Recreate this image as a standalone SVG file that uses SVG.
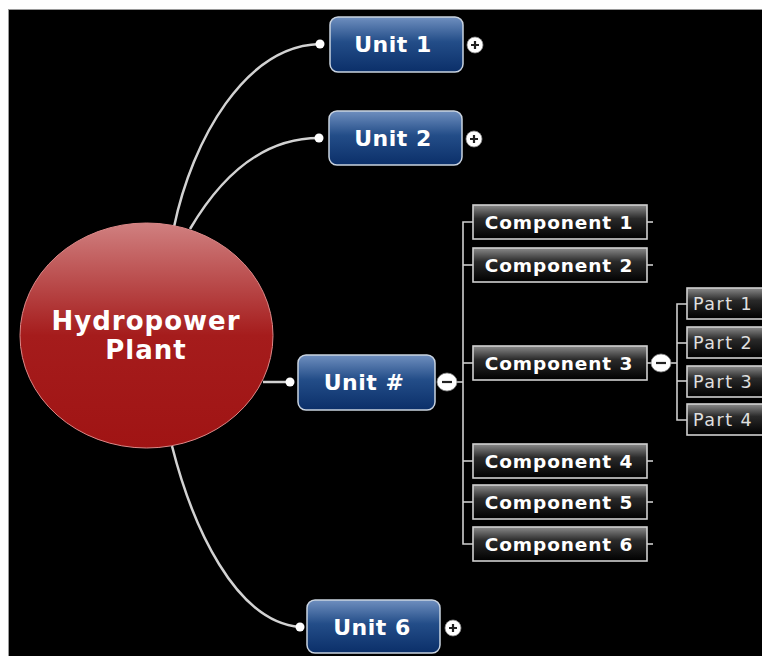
<svg xmlns="http://www.w3.org/2000/svg" width="762" height="656" viewBox="0 0 762 656">
<defs>
<linearGradient id="gRed" x1="0" y1="0" x2="0" y2="1">
<stop offset="0" stop-color="#d08080"/>
<stop offset="0.35" stop-color="#b23a3a"/>
<stop offset="0.5" stop-color="#a51c1c"/>
<stop offset="1" stop-color="#a01414"/>
</linearGradient>
<linearGradient id="gBlue" x1="0" y1="0" x2="0" y2="1">
<stop offset="0" stop-color="#6f8fbf"/>
<stop offset="0.45" stop-color="#234d88"/>
<stop offset="1" stop-color="#0b2f69"/>
</linearGradient>
<linearGradient id="gGray" x1="0" y1="0" x2="0" y2="1">
<stop offset="0" stop-color="#8a8a8a"/>
<stop offset="0.4" stop-color="#2a2a2a"/>
<stop offset="1" stop-color="#000"/>
</linearGradient>
<style>
.unit rect{fill:url(#gBlue);stroke:#c9d3e0;stroke-width:1.5}
.unit text{font-family:"DejaVu Sans",Verdana,sans-serif;font-weight:bold;font-size:22px;fill:#fff;text-anchor:middle;letter-spacing:0.5px}
.comp rect{fill:url(#gGray);stroke:#d0d0d0;stroke-width:1.6}
.comp text{font-family:"DejaVu Sans",Verdana,sans-serif;font-weight:bold;font-size:18.5px;fill:#fff;text-anchor:middle;letter-spacing:0.9px}
.part rect{fill:url(#gGray);stroke:#d0d0d0;stroke-width:1.6}
.part text{font-family:"DejaVu Sans",Verdana,sans-serif;font-size:17.5px;fill:#e0e0e0;letter-spacing:1.5px}
.conn path,.conn line{fill:none;stroke:#d2d2d2;stroke-width:2.5}
.tree path,.tree line{fill:none;stroke:#cfcfcf;stroke-width:1.6}
.dot{fill:#fff}
.btn{fill:#fff;stroke:#888;stroke-width:0.8}
.sym{stroke:#222;stroke-width:2.2}
</style>
</defs>
<rect x="0" y="0" width="762" height="656" fill="#fff"/>
<rect x="8.5" y="9.5" width="760" height="660" fill="#000" stroke="#9a9a9a" stroke-width="1"/>

<g id="connectors">
<g class="conn">
<path d="M174,227 C192,140 245,46 320,44"/>
<path d="M190,229 C220,178 262,138 319,138"/>
<path d="M172,446 C192,525 235,622 300,627"/>
<line x1="263" y1="382" x2="290" y2="382"/>
</g>
<g class="tree">
<line x1="456" y1="382" x2="463" y2="382"/>
<path d="M473,222 H463 V544 H473"/>
<line x1="463" y1="265" x2="473" y2="265"/>
<line x1="463" y1="363" x2="473" y2="363"/>
<line x1="463" y1="461" x2="473" y2="461"/>
<line x1="463" y1="502" x2="473" y2="502"/>
<line x1="647" y1="222" x2="653" y2="222"/>
<line x1="647" y1="265" x2="653" y2="265"/>
<line x1="647" y1="363" x2="651" y2="363"/>
<line x1="647" y1="461" x2="653" y2="461"/>
<line x1="647" y1="502" x2="653" y2="502"/>
<line x1="647" y1="544" x2="653" y2="544"/>
<line x1="670" y1="363" x2="677" y2="363"/>
<path d="M687,304 H677 V420 H687"/>
<line x1="677" y1="343" x2="687" y2="343"/>
<line x1="677" y1="381" x2="687" y2="381"/>
</g>
</g>

<g id="hydropower-plant">
<ellipse cx="146.5" cy="335.5" rx="126.5" ry="112.5" fill="url(#gRed)" stroke="#d88" stroke-width="1"/>
<text x="146" y="330" font-family="'DejaVu Sans',Verdana,sans-serif" font-weight="bold" font-size="26" fill="#fff" text-anchor="middle" letter-spacing="1">Hydropower</text>
<text x="146" y="359" font-family="'DejaVu Sans',Verdana,sans-serif" font-weight="bold" font-size="26" fill="#fff" text-anchor="middle" letter-spacing="1">Plant</text>
</g>

<g id="unit-1" class="unit">
<circle class="dot" cx="320" cy="44" r="4.5"/>
<rect x="330" y="17" width="133" height="55" rx="8"/>
<text x="393" y="52">Unit 1</text>
<circle class="btn" cx="475" cy="45" r="8"/>
<path class="sym" d="M471,45 H479 M475,41 V49"/>
</g>

<g id="unit-2" class="unit">
<circle class="dot" cx="319" cy="138" r="4.5"/>
<rect x="329" y="111" width="133" height="54" rx="8"/>
<text x="393" y="146">Unit 2</text>
<circle class="btn" cx="474" cy="139" r="8"/>
<path class="sym" d="M470,139 H478 M474,135 V143"/>
</g>

<g id="unit-n" class="unit">
<circle class="dot" cx="290" cy="382" r="4.5"/>
<rect x="298" y="355" width="137" height="55" rx="8"/>
<text x="364" y="390">Unit #</text>
<ellipse class="btn" cx="447" cy="382" rx="10" ry="9"/>
<path class="sym" d="M442,382 H452"/>
</g>

<g id="unit-6" class="unit">
<circle class="dot" cx="300" cy="627" r="4.5"/>
<rect x="307" y="600" width="133" height="53" rx="8"/>
<text x="372" y="635">Unit 6</text>
<circle class="btn" cx="453" cy="628" r="8"/>
<path class="sym" d="M449,628 H457 M453,624 V632"/>
</g>

<g id="component-1" class="comp">
<rect x="473" y="205" width="174" height="34"/>
<text x="559" y="229">Component 1</text>
</g>
<g id="component-2" class="comp">
<rect x="473" y="248" width="174" height="34"/>
<text x="559" y="272">Component 2</text>
</g>
<g id="component-3" class="comp">
<rect x="473" y="346" width="174" height="34"/>
<text x="559" y="370">Component 3</text>
<ellipse class="btn" cx="661" cy="363" rx="10" ry="9"/>
<path class="sym" d="M656,363 H666"/>
</g>
<g id="component-4" class="comp">
<rect x="473" y="444" width="174" height="34"/>
<text x="559" y="468">Component 4</text>
</g>
<g id="component-5" class="comp">
<rect x="473" y="485" width="174" height="34"/>
<text x="559" y="509">Component 5</text>
</g>
<g id="component-6" class="comp">
<rect x="473" y="527" width="174" height="34"/>
<text x="559" y="551">Component 6</text>
</g>

<g id="part-1" class="part">
<rect x="687" y="288" width="85" height="31"/>
<text x="693" y="310">Part 1</text>
</g>
<g id="part-2" class="part">
<rect x="687" y="327" width="85" height="31"/>
<text x="693" y="349">Part 2</text>
</g>
<g id="part-3" class="part">
<rect x="687" y="366" width="85" height="31"/>
<text x="693" y="388">Part 3</text>
</g>
<g id="part-4" class="part">
<rect x="687" y="404" width="85" height="31"/>
<text x="693" y="426">Part 4</text>
</g>
</svg>
